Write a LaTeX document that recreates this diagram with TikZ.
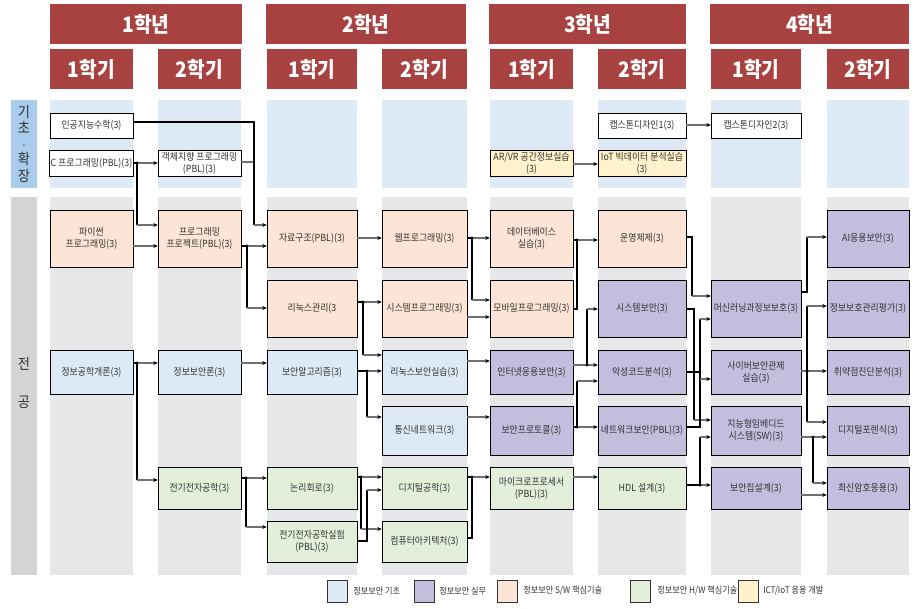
\documentclass[tikz,border=0pt]{standalone}
\usepackage{fontspec}
\setmainfont{Noto Sans CJK KR}[FakeStretch=0.9]
\usetikzlibrary{arrows.meta}
\definecolor{hdr}{HTML}{A84240}
\definecolor{bgB}{HTML}{DDEAF6}
\definecolor{bgG}{HTML}{E6E7E8}
\definecolor{lblB}{HTML}{A9CCEC}
\definecolor{lblG}{HTML}{D4D5D7}
\definecolor{cBase}{HTML}{DDEAF6}
\definecolor{cPrac}{HTML}{C3BDDE}
\definecolor{cSW}{HTML}{FCE4D6}
\definecolor{cHW}{HTML}{E3EFDA}
\definecolor{cICT}{HTML}{FFF2CC}
\definecolor{txt}{HTML}{333333}
\definecolor{lnG}{HTML}{707070}
\begin{document}
\begin{tikzpicture}[x=0.75pt,y=-0.75pt,
  crs/.style={draw=black,line width=0.6pt,align=center,text=txt,inner sep=1pt,font=\fontsize{7.4}{9}\selectfont},
  colA/.style={minimum width=62.25pt},
  colB/.style={minimum width=62.25pt},
  colC/.style={minimum width=67.5pt},
  colD/.style={minimum width=63.75pt},
  colE/.style={minimum width=62.25pt},
  colF/.style={minimum width=66pt},
  colG/.style={minimum width=67.5pt},
  colH/.style={minimum width=61.5pt},
  rowT1/.style={minimum height=18.75pt},
  rowT2/.style={minimum height=19.5pt},
  rowA/.style={minimum height=42.75pt},
  rowB/.style={minimum height=42.75pt},
  rowC/.style={minimum height=33pt},
  rowD/.style={minimum height=36.75pt},
  rowE/.style={minimum height=31.5pt},
  rowF/.style={minimum height=30.75pt},
  yrhdr/.style={fill=hdr,text=white,inner sep=0pt,minimum height=30pt,font=\fontsize{16}{18}\selectfont\bfseries},
  semhdr/.style={fill=hdr,text=white,inner sep=0pt,minimum height=30pt,font=\fontsize{16}{18}\selectfont\bfseries},
  sidelbl/.style={text=txt,inner sep=0pt,text height=0.8em,text depth=0.05em,font=\fontsize{11}{12}\selectfont},
  trunk/.style={draw=black,line width=1.7pt},
  arr/.style={draw=lnG,line width=0.9pt,-{Stealth[length=3.2pt,width=3pt,color=black]}},
  thin/.style={draw=lnG,line width=0.9pt},
  lgbox/.style={draw=black!80,line width=0.6pt,minimum width=15pt,minimum height=16.5pt,inner sep=0pt},
  lgtxt/.style={anchor=west,text=txt,inner sep=0pt,font=\fontsize{6.8}{8}\selectfont},
  jdot/.style={fill=black}
]
\useasboundingbox (0,0) rectangle (919,609);
\fill[white] (0,0) rectangle (919,609);

% ---- side labels
\fill[lblB] (11,100) rectangle (37,188);
\fill[lblG] (11,197) rectangle (37,575);
\node[sidelbl] (k1) at (24,113) {기};
\node[sidelbl] (k2) at (24,129) {초};
\node[sidelbl,font=\fontsize{8}{9}\selectfont] (k3) at (24,144.5) {·};
\node[sidelbl] (k4) at (24,160) {확};
\node[sidelbl] (k5) at (24,177) {장};
\node[sidelbl] (m1) at (24,364) {전};
\node[sidelbl] (m2) at (24,402) {공};

% ---- background columns
\foreach \xa/\xb in {50/133,158/241,267/357,382/467,490/573,598/686,711/801,827/909}{
  \fill[bgB] (\xa,100) rectangle (\xb,188);
  \fill[bgG] (\xa,197) rectangle (\xb,575);
}

% ---- headers
\node[yrhdr,minimum width=144pt] (yr1) at (146,24) {1학년};
\node[yrhdr,minimum width=150pt] (yr2) at (366,24) {2학년};
\node[yrhdr,minimum width=147.75pt] (yr3) at (587.5,24) {3학년};
\node[yrhdr,minimum width=149.25pt] (yr4) at (809.5,24) {4학년};
\node[semhdr,colA] (s1) at (91.5,69) {1학기};
\node[semhdr,colB] (s2) at (199.5,69) {2학기};
\node[semhdr,colC] (s3) at (312,69) {1학기};
\node[semhdr,colD] (s4) at (424.5,69) {2학기};
\node[semhdr,colE] (s5) at (531.5,69) {1학기};
\node[semhdr,colF] (s6) at (642,69) {2학기};
\node[semhdr,colG] (s7) at (756,69) {1학기};
\node[semhdr,colH] (s8) at (868,69) {2학기};

% ---- top section
\node[crs,colA,rowT1,fill=white] (ai) at (91.5,125.5) {인공지능수학(3)};
\node[crs,colF,rowT1,fill=white] (cap1) at (642,125.5) {캡스톤디자인1(3)};
\node[crs,colG,rowT1,fill=white] (cap2) at (756,125.5) {캡스톤디자인2(3)};
\node[crs,colA,rowT2,fill=white] (cprog) at (91.5,163) {C 프로그래밍(PBL)(3)};
\node[crs,colB,rowT2,fill=white] (oop) at (199.5,163) {객체지향 프로그래밍\\(PBL)(3)};
\node[crs,colE,rowT2,fill=cICT] (arvr) at (531.5,163) {AR/VR 공간정보실습\\(3)};
\node[crs,colF,rowT2,fill=cICT] (iot) at (642,163) {IoT 빅데이터 분석실습\\(3)};

% ---- row A
\node[crs,colA,rowA,fill=cSW] (py) at (91.5,238.5) {파이썬\\프로그래밍(3)};
\node[crs,colB,rowA,fill=cSW] (pp) at (199.5,238.5) {프로그래밍\\프로젝트(PBL)(3)};
\node[crs,colC,rowA,fill=cSW] (ds) at (312,238.5) {자료구조(PBL)(3)};
\node[crs,colD,rowA,fill=cSW] (web) at (424.5,238.5) {웹프로그래밍(3)};
\node[crs,colE,rowA,fill=cSW] (db) at (531.5,238.5) {데이터베이스\\실습(3)};
\node[crs,colF,rowA,fill=cSW] (os) at (642,238.5) {운영체제(3)};
\node[crs,colH,rowA,fill=cPrac] (aisec) at (868,238.5) {AI응용보안(3)};
% ---- row B
\node[crs,colC,rowB,fill=cSW] (lx) at (312,308.5) {리눅스관리(3};
\node[crs,colD,rowB,fill=cSW] (sp) at (424.5,308.5) {시스템프로그래밍(3)};
\node[crs,colE,rowB,fill=cSW] (mob) at (531.5,308.5) {모바일프로그래밍(3)};
\node[crs,colF,rowB,fill=cPrac] (sysec) at (642,308.5) {시스템보안(3)};
\node[crs,colG,rowB,fill=cPrac] (ml) at (756,308.5) {머신러닝과정보보호(3)};
\node[crs,colH,rowB,fill=cPrac] (pmeval) at (868,308.5) {정보보호관리평가(3)};
% ---- row C
\node[crs,colA,rowC,fill=cBase] (ie) at (91.5,372) {정보공학개론(3)};
\node[crs,colB,rowC,fill=cBase] (isec) at (199.5,372) {정보보안론(3)};
\node[crs,colC,rowC,fill=cBase] (algo) at (312,372) {보안알고리즘(3)};
\node[crs,colD,rowC,fill=cBase] (lsp) at (424.5,372) {리눅스보안실습(3)};
\node[crs,colE,rowC,fill=cPrac] (inet) at (531.5,372) {인터넷응용보안(3)};
\node[crs,colF,rowC,fill=cPrac] (mal) at (642,372) {악성코드분석(3)};
\node[crs,colG,rowC,fill=cPrac] (cyber) at (756,372) {사이버보안관제\\실습(3)};
\node[crs,colH,rowC,fill=cPrac] (vuln) at (868,372) {취약점진단분석(3)};
% ---- row D
\node[crs,colD,rowD,fill=cBase] (net) at (424.5,430.5) {통신네트워크(3)};
\node[crs,colE,rowD,fill=cPrac] (proto) at (531.5,430.5) {보안프로토콜(3)};
\node[crs,colF,rowD,fill=cPrac] (nsec) at (642,430.5) {네트워크보안(PBL)(3)};
\node[crs,colG,rowD,fill=cPrac] (emb) at (756,430.5) {지능형임베디드\\시스템(SW)(3)};
\node[crs,colH,rowD,fill=cPrac] (foren) at (868,430.5) {디지털포렌식(3)};
% ---- row E
\node[crs,colB,rowE,fill=cHW] (ee) at (199.5,488) {전기전자공학(3)};
\node[crs,colC,rowE,fill=cHW] (logic) at (312,488) {논리회로(3)};
\node[crs,colD,rowE,fill=cHW] (dig) at (424.5,488) {디지털공학(3)};
\node[crs,colE,rowE,fill=cHW] (micro) at (531.5,488) {마이크로프로세서\\(PBL)(3)};
\node[crs,colF,rowE,fill=cHW] (hdl) at (642,488) {HDL 설계(3)};
\node[crs,colG,rowE,fill=cPrac] (chip) at (756,488) {보안칩설계(3)};
\node[crs,colH,rowE,fill=cPrac] (crypto) at (868,488) {최신암호응용(3)};
% ---- row F
\node[crs,colC,rowF,fill=cHW] (eelab) at (312,541.5) {전기전자공학실험\\(PBL)(3)};
\node[crs,colD,rowF,fill=cHW] (ca) at (424.5,541.5) {컴퓨터아키텍처(3)};

% ================= connectors
% 인공지능수학 / 객체지향 -> 자료구조
\draw[thin] (oop.east |- 0,162) -- (254,162);
\draw[trunk] (ai.east |- 0,122) -| (254,225);
\draw[arr] (254,225) -- (ds.west |- 0,225);
% C 프로그래밍
\draw[trunk] (cprog.east |- 0,163) -- (137,163) -- (137,225);
\draw[arr] (137,163) -- (oop.west |- 0,163);
\draw[arr] (137,225) -- (pp.west |- 0,225);
\fill[jdot] (137,163) circle (1.3pt);
% 파이썬 -> 프로그래밍 프로젝트
\draw[arr] (py.east |- 0,246) -- (pp.west |- 0,246);
% 프로그래밍 프로젝트
\draw[trunk] (pp.east |- 0,246) -- (247,246) -- (247,308);
\draw[arr] (247,246) -- (ds.west |- 0,246);
\draw[arr] (247,308) -- (lx.west |- 0,308);
\fill[jdot] (247,246) circle (1.3pt);
% 자료구조 -> 웹
\draw[arr] (ds.east |- 0,238) -- (web.west |- 0,238);
% 리눅스관리
\draw[trunk] (lx.east |- 0,302) -- (363,302) -- (363,355);
\draw[arr] (363,302) -- (sp.west |- 0,302);
\draw[arr] (363,355) -- (lsp.west |- 0,355);
\fill[jdot] (363,302) circle (1.3pt);
% 정보공학개론
\draw[trunk] (ie.east |- 0,363) -- (137,363) -- (137,480);
\draw[arr] (137,363) -- (isec.west |- 0,363);
\draw[arr] (137,480) -- (ee.west |- 0,480);
\fill[jdot] (137,363) circle (1.3pt);
% 정보보안론 -> 보안알고리즘
\draw[arr] (isec.east |- 0,363) -- (algo.west |- 0,363);
% 보안알고리즘
\draw[trunk] (algo.east |- 0,371) -- (367,371) -- (367,417);
\draw[arr] (367,371) -- (lsp.west |- 0,371);
\draw[arr] (367,417) -- (net.west |- 0,417);
\fill[jdot] (367,371) circle (1.3pt);
% 전기전자공학
\draw[trunk] (ee.east |- 0,478) -- (246,478) -- (246,527);
\draw[arr] (246,478) -- (logic.west |- 0,478);
\draw[arr] (246,527) -- (eelab.west |- 0,527);
\fill[jdot] (246,478) circle (1.3pt);
% 논리회로
\draw[trunk] (logic.east |- 0,477) -- (361,477) -- (361,529);
\draw[arr] (361,477) -- (dig.west |- 0,477);
\draw[arr] (361,529) -- (ca.west |- 0,529);
\fill[jdot] (361,477) circle (1.3pt);
% 실험 -> 디지털공학
\draw[trunk] (eelab.east |- 0,541) -- (367,541) -- (367,490);
\draw[arr] (367,490) -- (dig.west |- 0,490);
% 디지털공학, 컴퓨터아키텍처 -> 마이크로프로세서
\draw[trunk] (ca.east |- 0,538) -- (472,538) -- (472,477);
\draw[trunk] (dig.east |- 0,477) -- (472,477);
\draw[arr] (472,477) -- (micro.west |- 0,477);
\fill[jdot] (472,477) circle (1.3pt);
% 웹프로그래밍
\draw[trunk] (web.east |- 0,238) -- (472,238) -- (472,300);
\draw[arr] (472,238) -- (db.west |- 0,238);
\draw[arr] (472,300) -- (mob.west |- 0,300);
\fill[jdot] (472,238) circle (1.3pt);
% 시스템프로그래밍 -> 모바일
\draw[arr] (sp.east |- 0,317) -- (mob.west |- 0,317);
% 리눅스보안실습 -> 인터넷응용보안
\draw[arr] (lsp.east |- 0,361) -- (inet.west |- 0,361);
% 통신네트워크 -> 보안프로토콜
\draw[arr] (net.east |- 0,417) -- (proto.west |- 0,417);
% 마이크로 -> HDL
\draw[arr] (micro.east |- 0,477) -- (hdl.west |- 0,477);
% 데이터베이스, 모바일 -> 운영체제
\draw[trunk] (mob.east |- 0,309) -- (577,309) -- (577,240);
\draw[trunk] (db.east |- 0,240) -- (577,240);
\draw[arr] (577,240) -- (os.west |- 0,240);
\fill[jdot] (577,240) circle (1.3pt);
% 인터넷응용보안
\draw[thin] (inet.east |- 0,365) -- (587,365);
\draw[trunk] (587,365) -- (587,309);
\draw[arr] (587,365) -- (mal.west |- 0,365);
\draw[arr] (587,309) -- (sysec.west |- 0,309);
\fill[jdot] (587,365) circle (1.3pt);
% 보안프로토콜
\draw[trunk] (proto.east |- 0,427) -- (577,427) -- (577,381);
\draw[arr] (577,427) -- (nsec.west |- 0,427);
\draw[arr] (577,381) -- (mal.west |- 0,381);
\fill[jdot] (577,427) circle (1.3pt);
% 운영체제 -> 머신러닝
\draw[trunk] (os.east |- 0,237) -- (692,237) -- (692,296);
\draw[arr] (692,296) -- (ml.west |- 0,296);
% 시스템보안 -> 지능형임베디드
\draw[trunk] (sysec.east |- 0,309) -- (694,309) -- (694,420);
\draw[arr] (694,420) -- (emb.west |- 0,420);
% 악성코드분석, 네트워크보안 -> 머신러닝, 사이버보안관제
\draw[trunk] (mal.east |- 0,372) -- (700,372);
\draw[trunk] (nsec.east |- 0,427) -- (700,427) -- (700,319);
\draw[arr] (700,319) -- (ml.west |- 0,319);
\draw[arr] (700,379) -- (cyber.west |- 0,379);
% HDL -> 지능형임베디드, 보안칩설계
\draw[trunk] (hdl.east |- 0,485) -- (700,485) -- (700,437);
\draw[arr] (700,437) -- (emb.west |- 0,437);
\draw[arr] (700,485) -- (chip.west |- 0,485);
\fill[jdot] (700,485) circle (1.3pt);
% 캡스톤, AR/VR
\draw[arr] (cap1.east |- 0,125) -- (cap2.west |- 0,125);
\draw[arr] (arvr.east |- 0,164) -- (iot.west |- 0,164);
% 머신러닝 -> AI응용보안
\draw[trunk] (ml.east |- 0,292) -- (807,292) -- (807,237);
\draw[arr] (807,237) -- (aisec.west |- 0,237);
% 사이버보안관제
\draw[thin] (cyber.east |- 0,371) -- (807,371);
\draw[trunk] (807,306) -- (807,422);
\draw[arr] (807,306) -- (pmeval.west |- 0,306);
\draw[arr] (807,371) -- (vuln.west |- 0,371);
\draw[arr] (807,422) -- (foren.west |- 0,422);
\fill[jdot] (807,371) circle (1.3pt);
% 지능형임베디드
\draw[thin] (emb.east |- 0,437) -- (813,437);
\draw[trunk] (813,437) -- (813,483);
\draw[arr] (813,437) -- (foren.west |- 0,437);
\draw[arr] (813,483) -- (crypto.west |- 0,483);
\fill[jdot] (813,437) circle (1.3pt);
% 보안칩설계 -> 최신암호응용
\draw[arr] (chip.east |- 0,495) -- (crypto.west |- 0,495);

% ---- legend
\node[lgbox,fill=cBase] (lg1) at (337,591) {};
\node[lgtxt] (lt1) at (353,591) {정보보안 기초};
\node[lgbox,fill=cPrac] (lg2) at (424,591) {};
\node[lgtxt] (lt2) at (439,591) {정보보안 실무};
\node[lgbox,fill=cSW] (lg3) at (507,591) {};
\node[lgtxt] (lt3) at (523,591) {정보보안 S/W 핵심기술};
\node[lgbox,fill=cHW] (lg4) at (640,591) {};
\node[lgtxt] (lt4) at (657,591) {정보보안 H/W 핵심기술};
\node[lgbox,fill=cICT] (lg5) at (748,591) {};
\node[lgtxt] (lt5) at (763,591) {ICT/IoT 응용 개발};
\end{tikzpicture}
\end{document}
